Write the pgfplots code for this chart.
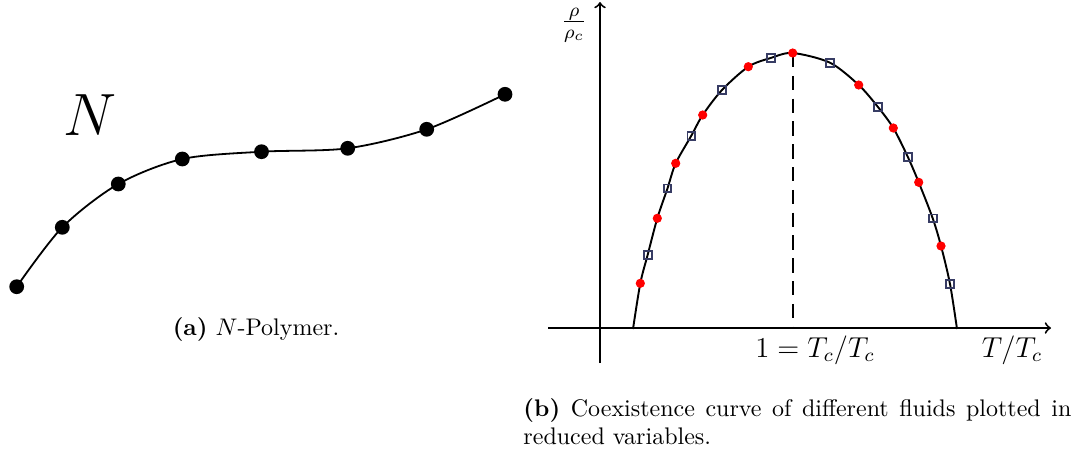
\documentclass[border=0pt]{standalone}
\usepackage{pgfplots}
\pgfplotsset{compat=1.18}
\definecolor{sqcol}{RGB}{55,60,100}
\begin{document}
\begin{tikzpicture}
\begin{axis}[x=0.41667pt, y=0.41667pt, xmin=0, xmax=1074, ymin=0, ymax=455,
  hide axis, clip=false]
\path (axis cs:0,0) rectangle (axis cs:1074,455);
% (a) polymer
\addplot[black, line width=0.75pt, smooth, mark=*, mark size=2.7pt, mark options={fill=black}]
  coordinates {(16.7,168.3) (62.3,227.7) (118.3,271) (182.3,296) (261.5,303.3) (347.7,306.7) (426.7,325.7) (505,360.7)};
\node[anchor=base, inner sep=0] at (axis cs:90,320) {\Huge $N$};
\node[anchor=base, inner sep=0] at (axis cs:256,120) {\textbf{(a)} $N$-Polymer.};
% (b) axes
\draw[->, line width=0.8pt] (axis cs:600,92) -- (axis cs:600,453);
\draw[->, line width=0.8pt] (axis cs:548,127) -- (axis cs:1051,127);
\draw[black, line width=0.8pt, dash pattern=on 6pt off 3.5pt] (axis cs:792.6,402) -- (axis cs:792.6,127);
\addplot[black, line width=0.8pt, smooth, no marks]
  coordinates {(633,126) (640.3,171.7) (647.7,200.3) (657.3,236.7) (667.5,266.7) (675.7,291.7) (691.3,319.3) (702.7,340) (722,365) (748.3,388.3) (770.7,397) (792.7,402) (830,392.3) (858.7,370) (877.7,348.3) (893.3,327) (907.7,298.3) (918.7,272.7) (932.7,236.7) (941,209) (950,171) (957,126)};
\addplot[only marks, mark=*, mark size=1.7pt, red, mark options={fill=red, draw=red}]
  coordinates {(640.3,171.7) (657.3,236.7) (675.7,291.7) (702.7,340) (748.3,388.3) (792.7,402) (858.7,370) (893.3,327) (918.7,272.7) (941,209)};
\addplot[only marks, mark=square, mark size=1.6pt, sqcol, mark options={line width=0.8pt}]
  coordinates {(647.7,200.3) (667.5,266.7) (691.3,319.3) (722,365) (770.7,397) (830,392.3) (877.7,348.3) (907.7,298.3) (932.7,236.7) (950,171)};
\node[anchor=base, inner sep=0] at (axis cs:815,98) {\large $1=T_c/T_c$};
\node[anchor=base, inner sep=0] at (axis cs:1012,98) {\large $T/T_c$};
\node[inner sep=0] at (axis cs:574,430) {\large $\frac{\rho}{\rho_c}$};
\node[anchor=base west, inner sep=0] at (axis cs:523,39) {\parbox[t]{228.3pt}{\textbf{(b)} Coexistence curve of different fluids plotted in reduced variables.}};
\end{axis}
\end{tikzpicture}
\end{document}
